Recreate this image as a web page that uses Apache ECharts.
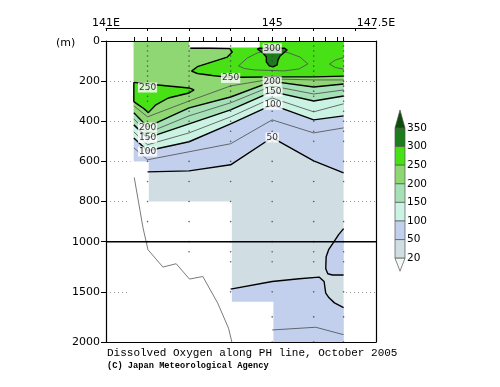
<!DOCTYPE html>
<html><head><meta charset="utf-8">
<script src="https://cdn.jsdelivr.net/npm/echarts@6/dist/echarts.min.js"></script>
<style>html,body{margin:0;padding:0;background:#fff}#c{width:500px;height:387px}</style>
</head><body><div id="c"></div>
<script>
// ---------------- DATA ----------------
const lonMin = 141, lonMax = 147.5;
const stationLon = [141.68,142.0,142.34,142.69,143.0,143.34,143.66,144.01,144.33,144.67,145.0,145.32,145.66,146.0,146.28,146.56,146.72];
const profileLon = [142.0,143.0,144.0,145.0,146.0,146.72];
const profileMaxDepth = [1000,1100,1500,2000,2000,2000];
const sampleDepths = [0,25,50,75,100,125,150,175,200,225,250,275,300,350,400,450,500,600,700,800,900,1000,1100,1200,1500,1750,2000];

const coverageLon = [141.67,142.0,144.0,145.0,146.72];
const coverageMaxDepth = [600,800,1600,2000];
const gapLon = [143.0,144.7];
const gapDepth = 32;
const refDepth = 1000;

const contourLon = [141.67,142.0,143.0,144.0,145.0,146.0,146.72];
const c225 = [323,378,299,224,189,194,194];
const c200 = [358,428,333,279,201,229,214];
const c175 = [388,458,373,308,224,264,244];
const c150 = [418,483,413,343,252,299,274];
const c125 = [453,517,458,378,284,353,313];
const c100 = [483,547,502,413,318,393,373];
const c75  = [532,592,552,512,393,458,433];
const c50Lon = [142.0,143.0,144.0,145.0,146.0,146.72];
const c50 = [652,647,617,481,597,657];

const c250Right = [[143.03,36],[143.5,36],[143.98,38],[144.04,55],[143.92,80],[143.56,104],[143.2,128],[143.06,150],[143.2,162],[143.56,172],[143.85,179],[144.3,181],[145.0,179],[146.0,179],[146.72,175]];
const c250Lens = [[141.67,206],[142.0,214],[142.5,224],[143.0,234],[143.12,244],[143.0,259],[142.5,284],[142.2,318],[142.02,357],[141.9,335],[141.78,318],[141.67,302]];
const c300Blob = [[144.64,40],[144.78,60],[144.86,80],[144.86,104],[144.93,124],[145.02,129],[145.12,119],[145.14,95],[145.19,75],[145.36,45],[145.3,36],[144.7,36]];
const c275Oval = [[144.19,124],[144.4,85],[144.64,60],[144.81,50],[145.22,50],[145.41,60],[145.67,80],[145.86,114],[145.65,139],[145.29,149],[145.0,147],[144.57,144],[144.33,137]];
const c275Right = [[146.72,82],[146.52,95],[146.38,115],[146.52,132],[146.72,140]];
const c50Deep = [[144.0,1473],[145.0,1397],[145.65,1370],[146.13,1353],[146.25,1397],[146.29,1513],[146.37,1560],[146.5,1610],[146.72,1657]];
const c50RightLens = [[146.72,935],[146.6,965],[146.49,1000],[146.36,1080],[146.3,1150],[146.29,1270],[146.34,1320],[146.45,1332],[146.72,1332]];
const c75Deep = [[145.0,1880],[146.05,1853],[146.68,1923],[146.72,1925]];
const bottomTopo = [[141.68,680],[141.89,930],[142.01,1080],[142.37,1253],[142.69,1220],[143.01,1373],[143.33,1347],[143.69,1613],[143.95,1863],[144.03,2000]];

const labelLon = [145.0,144.0,145.0,145.02,145.02,145.0,142.0,142.0,142.0,142.0];
const labelDepth = [37,184,201,252,318,481,232,431,483,551];
const labelText = ['300','250','200','150','100','50','250','200','150','100'];

const yTickDepths = [0,200,400,600,800,1000,1500,2000];
const xTickLon = [141,142,143,144,145,146,147];
const xLabelLon = [141,145,147.5];
const xLabelText = ['141E','145','147.5E'];
const legendLevels = ['350','300','250','200','150','100','50','20'];

const col = {lt20:'#f4f8f4', b20:'#d0dde2', b50:'#c3d0ed', b100:'#cbf3e3', b150:'#a6e0b6', b200:'#8ed772', b250:'#47e116', b300:'#1c7d1c', gt350:'#0c4d0c'};
const legendColors = [col.b300,col.b250,col.b200,col.b150,col.b100,col.b50,col.b20];

// ---------------- HELPERS ----------------
function fy(d){ return d <= 1000 ? d : 1000 + (d - 1000) / 2; }
function finv(v){ return Math.round(v <= 1000 ? v : 1000 + (v - 1000) * 2); }
function zip(a,b){ return a.map((x,i)=>[x,b[i]]); }
const L = coverageLon[0], R = coverageLon[coverageLon.length-1];
const seam = 0.03;
let zc = 1;
function poly(pts, color){
  const order = zc++;
  return { type:'custom', coordinateSystem:'cartesian2d', silent:true, animation:false, z:1,
    data: pts.map(p=>[p[0], fy(p[1])]),
    renderItem: function(params, api){
      if (params.dataIndex !== 0) return null;
      return { type:'polygon', z2: order, shape:{ points: pts.map(p=>api.coord([p[0], fy(p[1])])) }, style:{ fill: color } };
    }
  };
}
function line(pts, thick, closed){
  const arr = closed ? pts.concat([pts[0]]) : pts;
  return { type:'line', silent:true, animation:false, z:30, symbol:'none', showSymbol:false,
    data: arr.map(p=>[p[0], fy(p[1])]),
    lineStyle: thick ? {color:'#000', width:1.4} : {color:'#4a4a4a', width:0.8} };
}
const above = (ln)=> [[L,0],[R,0]].concat(ln.slice().reverse());

const l225 = zip(contourLon,c225), l200 = zip(contourLon,c200), l175 = zip(contourLon,c175),
      l150 = zip(contourLon,c150), l125 = zip(contourLon,c125), l100 = zip(contourLon,c100),
      l75 = zip(contourLon,c75), l50 = zip(c50Lon,c50);

const series = [];
series.push(poly([[L,0],[R,0],[R,2000],[L,2000]], col.b20));
series.push(poly(above(l50).concat([[L, l50[0][1]]]), col.b50));
series.push(poly(above(l100), col.b100));
series.push(poly(above(l150), col.b150));
series.push(poly(above(l200), col.b200));
series.push(poly(c250Right.concat([[R,0],[c250Right[0][0],0]]), col.b250));
series.push(poly(c250Lens, col.b250));
series.push(poly(c300Blob, col.b300));
series.push(poly(c50Deep.concat([[R,2000],[c50Deep[0][0],2000]]), col.b50));
series.push(poly(c50RightLens, col.b50));
// no-data masks
for (let i=0;i<coverageMaxDepth.length;i++){
  if (coverageMaxDepth[i] < 2000){
    const x0 = coverageLon[i] - (i===0 ? 0.1 : seam), x1 = coverageLon[i+1] + seam;
    series.push(poly([[x0,coverageMaxDepth[i]],[x1,coverageMaxDepth[i]],[x1,2010],[x0,2010]], '#ffffff'));
  }
}
series.push(poly([[gapLon[0],-5],[gapLon[1],-5],[gapLon[1],gapDepth],[gapLon[0],gapDepth]], '#ffffff'));

// contour lines
[l225,l175,l125,l75].forEach(l=>series.push(line(l,false)));
series.push(line(c275Oval,false,true));
series.push(line(c275Right,false));
series.push(line(c75Deep,false));
[l200,l150,l100,l50].forEach(l=>series.push(line(l,true)));
series.push(line(c250Right,true));
series.push(line(c250Lens,true,true));
series.push(line(c300Blob,true,true));
series.push(line(c50Deep,true));
series.push(line(c50RightLens,true));
// sea bottom
series.push({ type:'line', silent:true, animation:false, z:31, symbol:'none', data: bottomTopo.map(p=>[p[0],fy(p[1])]), lineStyle:{color:'#7a7a7a', width:1} });
// 1000 m reference line
series.push({ type:'line', silent:true, animation:false, z:45, symbol:'none', data: [[lonMin, fy(refDepth)],[lonMax, fy(refDepth)]], lineStyle:{color:'#000', width:1.5} });
// observation points
const obs = [];
profileLon.forEach((lon,i)=>sampleDepths.forEach(d=>{ if (d<=profileMaxDepth[i]) obs.push([lon, fy(d)]); }));
series.push({ type:'scatter', silent:true, animation:false, z:32, symbolSize:1.6, itemStyle:{color:'#3a3a3a'}, data: obs });
// contour labels
series.push({ type:'scatter', silent:true, animation:false, z:40, symbolSize:0,
  data: labelLon.map((x,i)=>[x, fy(labelDepth[i]), labelText[i]]),
  label:{ show:true, position:'inside', formatter:p=>p.value[2], color:'#000', fontSize:9, fontFamily:'DejaVu Sans', backgroundColor:'#fff', padding:[1,1,0,1] }
});

// ---------------- LEGEND (colour bar) ----------------
const cbX = 395, cbW = 10, cbTop = 128, cbH = 18.6;
const graphics = [];
legendColors.forEach((c,i)=>graphics.push({type:'rect', shape:{x:cbX, y:cbTop+i*cbH, width:cbW, height:cbH}, style:{fill:c, stroke:'#555', lineWidth:0.7}}));
graphics.push({type:'polygon', shape:{points:[[cbX,cbTop],[cbX+cbW,cbTop],[cbX+cbW/2,cbTop-18]]}, style:{fill:col.gt350, stroke:'#555', lineWidth:0.7}});
const cbBot = cbTop + legendColors.length*cbH;
graphics.push({type:'polygon', shape:{points:[[cbX,cbBot],[cbX+cbW,cbBot],[cbX+cbW/2,cbBot+13]]}, style:{fill:col.lt20, stroke:'#555', lineWidth:0.7}});
legendLevels.forEach((t,i)=>graphics.push({type:'text', x:cbX+cbW+2, y:cbTop+i*cbH, style:{text:t, fill:'#000', font:'10.5px "DejaVu Sans"', textVerticalAlign:'middle'}}));
graphics.push({type:'text', x:56, y:43, style:{text:'(m)', fill:'#000', font:'11px "DejaVu Sans"', textVerticalAlign:'middle'}});
graphics.push({type:'text', x:107, y:353, style:{text:'Dissolved Oxygen along PH line, October 2005', fill:'#000', font:'11px "Liberation Mono"', textVerticalAlign:'middle'}});
graphics.push({type:'text', x:107, y:366, style:{text:'(C) Japan Meteorological Agency', fill:'#000', font:'bold 8.7px "Liberation Mono"', textVerticalAlign:'middle'}});

const axisFont = {color:'#000', fontSize:11, fontFamily:'DejaVu Sans'};
const chart = echarts.init(document.getElementById('c'), null, {renderer:'canvas'});
chart.setOption({
  animation:false,
  grid:{left:106, top:41, width:270, height:301, containLabel:false, outerBoundsMode:'none'},
  xAxis:[
    {type:'value', min:lonMin, max:lonMax, position:'top', offset:13, z:50,
     axisLine:{show:true, onZero:false, lineStyle:{color:'#000', width:1}},
     axisTick:{show:true, inside:true, length:3, customValues:xTickLon, lineStyle:{color:'#000'}},
     axisLabel:Object.assign({customValues:xLabelLon, margin:-1, lineHeight:11, formatter:v=>xLabelText[xLabelLon.indexOf(v)]}, axisFont),
     splitLine:{show:false}},
    {type:'value', min:lonMin, max:lonMax, position:'top', offset:0, z:50,
     axisLine:{show:true, onZero:false, lineStyle:{color:'#000', width:1.2}},
     axisTick:{show:true, inside:false, length:4, customValues:stationLon, lineStyle:{color:'#000'}},
     axisLabel:{show:false}, splitLine:{show:false}},
    {type:'value', min:lonMin, max:lonMax, position:'bottom', z:50,
     axisLine:{show:true, onZero:false, lineStyle:{color:'#000', width:1.2}},
     axisTick:{show:false}, axisLabel:{show:false}, splitLine:{show:false}}
  ],
  yAxis:[
    {type:'value', inverse:true, min:0, max:1500, position:'left',
     axisLine:{show:true, onZero:false, lineStyle:{color:'#000', width:1.2}},
     axisTick:{show:true, length:5, customValues:yTickDepths.map(fy), lineStyle:{color:'#000'}},
     axisLabel:Object.assign({customValues:yTickDepths.map(fy), margin:6, formatter:v=>String(finv(v))}, axisFont),
     splitLine:{show:true, lineStyle:{color:'#9a9a9a', width:1, type:[1,3]}}},
    {type:'value', inverse:true, min:0, max:1500, position:'right', z:50,
     axisLine:{show:true, onZero:false, lineStyle:{color:'#000', width:1.2}},
     axisTick:{show:false}, axisLabel:{show:false}, splitLine:{show:false}}
  ],
  graphic: graphics,
  series: series
});
</script></body></html>
